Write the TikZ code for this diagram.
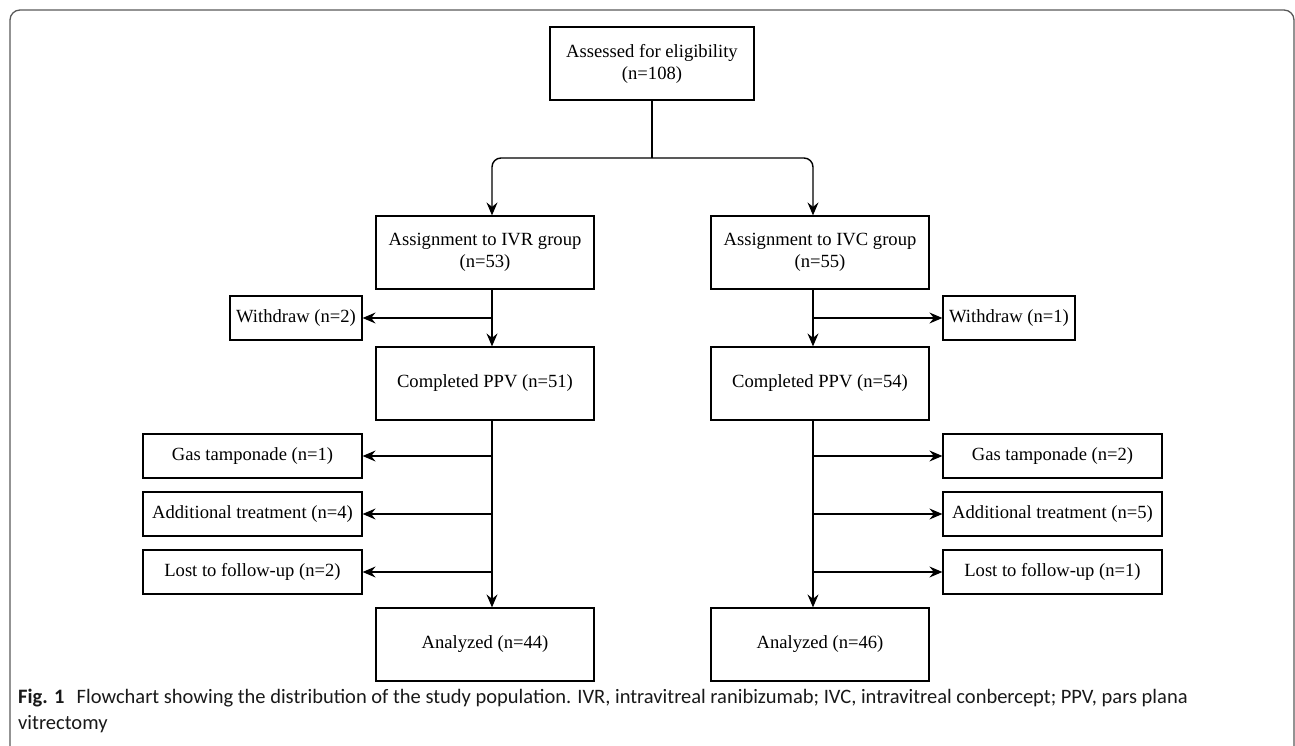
\documentclass[tikz,border=0pt]{standalone}
\usepackage{fontspec}
\setmainfont{Liberation Serif}
\newfontfamily\capfont{Carlito}
\usetikzlibrary{arrows.meta,calc}
\begin{document}
\begin{tikzpicture}[x=1bp,y=-1bp,
  box/.style={draw, line width=1.2bp, minimum width=#1, align=center, inner sep=0pt,
    font=\fontsize{18.6bp}{22bp}\selectfont},
  tallbox/.style={box=#1, minimum height=73bp},
  smallbox/.style={box=#1, minimum height=44bp},
  conn/.style={line width=1.4bp},
  arr/.style={conn, -{Stealth[length=13bp,width=11bp,inset=4.5bp]}},
]
\useasboundingbox (0,0) rectangle (1295,746);
% outer frame
\draw[line width=1.3bp, draw=black!65, rounded corners=10bp] (10,760) -- (10,10) -- (1294,10) -- (1294,760);

% nodes
\node[tallbox=204bp] (top) at (652,63.5) {Assessed for eligibility\\(n=108)};
\node[tallbox=218bp] (ivr) at (485,252.5) {Assignment to IVR group\\(n=53)};
\node[tallbox=218bp] (ivc) at (820,252.5) {Assignment to IVC group\\(n=55)};
\node[smallbox=132bp] (wl) at (296,318) {Withdraw (n=2)};
\node[smallbox=132bp] (wr) at (1009,318) {Withdraw (n=1)};
\node[tallbox=218bp] (ppvl) at (485,383.5) {Completed PPV (n=51)};
\node[tallbox=218bp] (ppvr) at (820,383.5) {Completed PPV (n=54)};
\node[smallbox=219bp] (gl) at (252.5,456) {Gas tamponade (n=1)};
\node[smallbox=219bp] (al) at (252.5,514) {Additional treatment (n=4)};
\node[smallbox=219bp] (ll) at (252.5,572) {Lost to follow-up (n=2)};
\node[smallbox=219bp] (gr) at (1052.5,456) {Gas tamponade (n=2)};
\node[smallbox=219bp] (ar) at (1052.5,514) {Additional treatment (n=5)};
\node[smallbox=219bp] (lr) at (1052.5,572) {Lost to follow-up (n=1)};
\node[tallbox=218bp] (anl) at (485,644.5) {Analyzed (n=44)};
\node[tallbox=218bp] (anr) at (820,644.5) {Analyzed (n=46)};

% spine coordinates
\coordinate (split) at (652,158);
\coordinate (sl) at (492,0);
\coordinate (sr) at (813,0);

% top split
\draw[conn] (top.south) -- (split);
\draw[arr, rounded corners=9bp] (split) -- (split -| sl) -- (ivr.north -| sl);
\draw[arr, rounded corners=9bp] (split) -- (split -| sr) -- (ivc.north -| sr);

% left column
\draw[arr] (ivr.south -| sl) -- (ppvl.north -| sl);
\draw[arr] (wl.east -| sl) -- (wl.east);
\draw[arr] (ppvl.south -| sl) -- (anl.north -| sl);
\draw[arr] (gl.east -| sl) -- (gl.east);
\draw[arr] (al.east -| sl) -- (al.east);
\draw[arr] (ll.east -| sl) -- (ll.east);

% right column
\draw[arr] (ivc.south -| sr) -- (ppvr.north -| sr);
\draw[arr] (wr.west -| sr) -- (wr.west);
\draw[arr] (ppvr.south -| sr) -- (anr.north -| sr);
\draw[arr] (gr.west -| sr) -- (gr.west);
\draw[arr] (ar.west -| sr) -- (ar.west);
\draw[arr] (lr.west -| sr) -- (lr.west);

% caption
\node[anchor=north west, align=left, inner sep=0pt, font=\capfont\fontsize{20.5bp}{26bp}\selectfont, text=black!90] (cap) at (18,689)
  {\textbf{Fig. 1}\hspace{0.6em}Flowchart showing the distribution of the study population. IVR, intravitreal ranibizumab; IVC, intravitreal conbercept; PPV, pars plana\\vitrectomy};
\end{tikzpicture}
\end{document}
